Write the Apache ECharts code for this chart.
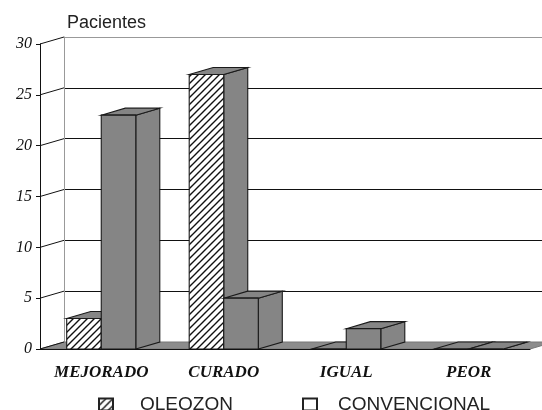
<!DOCTYPE html>
<html lang="es">
<head>
    <meta charset="utf-8">
    <title>Pacientes</title>
    <script src="https://cdn.jsdelivr.net/npm/echarts@6/dist/echarts.min.js"></script>
    <style>
        html, body {margin: 0; padding: 0; background: #fff;}
        #main {width: 542px; height: 410px;}
    </style>
</head>
<body>
<div id="main"></div>
<script type="text/javascript">
    // datos del gráfico
    var categorias = ['MEJORADO', 'CURADO', 'IGUAL', 'PEOR'];
    var oleozon = [3, 27, 0, 0];
    var convencional = [23, 5, 2, 0];
    var yTicks = [0, 5, 10, 15, 20, 25, 30];

    // profundidad del efecto 3D (px)
    var DX = 24, DY = 7;
    var GRIS = '#858585';
    var BORDE = '#1a1a1a';

    // patrón rayado para OLEOZON
    function hatch() {
        var c = document.createElement('canvas');
        c.width = 7; c.height = 7;
        var ctx = c.getContext('2d');
        ctx.fillStyle = '#fff';
        ctx.fillRect(0, 0, 7, 7);
        ctx.strokeStyle = '#111';
        ctx.lineWidth = 1.4;
        ctx.beginPath();
        ctx.moveTo(-1, 8); ctx.lineTo(8, -1);
        ctx.moveTo(-1, 1); ctx.lineTo(1, -1);
        ctx.moveTo(6, 8); ctx.lineTo(8, 6);
        ctx.stroke();
        return c;
    }
    var rayado = {image: hatch(), repeat: 'repeat'};

    function toPairs(arr) {
        return arr.map(function (v, i) { return [i, v]; });
    }

    function bar3d(side, frontFill) {
        return function (params, api) {
            var base = api.coord([api.value(0), 0]);
            var top = api.coord([api.value(0), api.value(1)]);
            var w = api.size([1, 0])[0] * 0.282;
            var x0 = base[0] + side * w, x1 = x0 + w;
            var yb = base[1], yt = top[1];
            var st = {stroke: BORDE, lineWidth: 1.1};
            return {
                type: 'group',
                children: [
                    {type: 'polygon', shape: {points: [[x1, yt], [x1 + DX, yt - DY], [x1 + DX, yb - DY], [x1, yb]]},
                        style: Object.assign({fill: GRIS}, st)},
                    {type: 'polygon', shape: {points: [[x0, yt], [x0 + DX, yt - DY], [x1 + DX, yt - DY], [x1, yt]]},
                        style: Object.assign({fill: GRIS}, st)},
                    {type: 'rect', shape: {x: x0, y: yt, width: w, height: yb - yt},
                        style: Object.assign({fill: frontFill}, st)}
                ]
            };
        };
    }

    var myChart = echarts.init(document.getElementById('main'));

    var legendText = {fontFamily: 'Liberation Sans', fontSize: 19, color: '#222'};

    var option = {
        animation: false,
        title: {
            text: 'Pacientes',
            left: 62, top: 9,
            textStyle: {fontFamily: 'Liberation Sans', fontSize: 18, fontWeight: 'normal', color: '#222'}
        },
        legend: [
            {
                data: [{name: 'OLEOZON', icon: 'rect', itemStyle: {color: rayado, borderColor: '#222', borderWidth: 2}}],
                left: 93, top: 390, itemWidth: 14, itemHeight: 12,
                selectedMode: false,
                textStyle: Object.assign({padding: [0, 0, 0, 22]}, legendText)
            },
            {
                data: [{name: 'CONVENCIONAL', icon: 'rect', itemStyle: {color: '#fff', borderColor: '#222', borderWidth: 2}}],
                left: 297, top: 390, itemWidth: 14, itemHeight: 12,
                selectedMode: false,
                textStyle: Object.assign({padding: [0, 0, 0, 16]}, legendText)
            }
        ],
        grid: [
            {left: 40, right: 12, top: 44, bottom: 61},
            {left: 40 + DX, right: 12 - DX, top: 44 - DY, bottom: 61 + DY}
        ],
        xAxis: [
            {
                type: 'category', gridIndex: 0, data: categorias,
                axisLine: {lineStyle: {color: '#111', width: 1}},
                axisTick: {length: 6, lineStyle: {color: '#111'}},
                axisLabel: {
                    interval: 0, hideOverlap: false,
                    margin: 15, color: '#111',
                    fontFamily: 'Liberation Serif', fontStyle: 'italic', fontWeight: 'bold', fontSize: 17
                },
                z: 5
            },
            {type: 'category', gridIndex: 1, data: categorias, show: false}
        ],
        yAxis: [
            {
                type: 'value', gridIndex: 0, min: 0, max: 30, interval: 5,
                axisLine: {show: true, lineStyle: {color: '#111', width: 1}},
                axisTick: {show: true, length: 4, lineStyle: {color: '#111'}},
                splitLine: {show: false},
                axisLabel: {
                    margin: 8, color: '#111',
                    fontFamily: 'Liberation Serif', fontStyle: 'italic', fontSize: 16
                },
                z: 5
            },
            {
                type: 'value', gridIndex: 1, min: 0, max: 30, interval: 5,
                axisLine: {show: true, lineStyle: {color: '#999', width: 1}},
                axisTick: {show: false},
                axisLabel: {show: false},
                splitLine: {show: true, lineStyle: {color: ['#111', '#111', '#111', '#111', '#111', '#111', '#999'], width: 1}}
            }
        ],
        series: [
            {
                // suelo y líneas de la pared lateral
                type: 'custom', xAxisIndex: 0, yAxisIndex: 0, silent: true, z: 1,
                data: yTicks.map(function (v) { return [0, v]; }),
                renderItem: function (params, api) {
                    var cs = params.coordSys;
                    var y = api.coord([0, api.value(1)])[1];
                    var x0 = cs.x, x1 = cs.x + cs.width;
                    var children = [
                        {type: 'line', shape: {x1: x0, y1: y, x2: x0 + DX, y2: y - DY},
                            style: {stroke: '#111', lineWidth: 1}}
                    ];
                    if (api.value(1) === 0) {
                        children.unshift({
                            type: 'polygon',
                            shape: {points: [[x0, y], [x0 + DX, y - DY], [x1 + DX, y - DY], [x1, y]]},
                            style: {fill: '#8c8c8c', stroke: '#777', lineWidth: 1}
                        });
                    }
                    return {type: 'group', children: children};
                }
            },
            {
                name: 'OLEOZON', type: 'custom', xAxisIndex: 0, yAxisIndex: 0, z: 2,
                itemStyle: {color: '#fff'},
                data: toPairs(oleozon),
                renderItem: bar3d(-1, rayado)
            },
            {
                name: 'CONVENCIONAL', type: 'custom', xAxisIndex: 0, yAxisIndex: 0, z: 3,
                itemStyle: {color: '#fff'},
                data: toPairs(convencional),
                renderItem: bar3d(0, GRIS)
            }
        ]
    };
    myChart.setOption(option);
</script>
</body>
</html>
